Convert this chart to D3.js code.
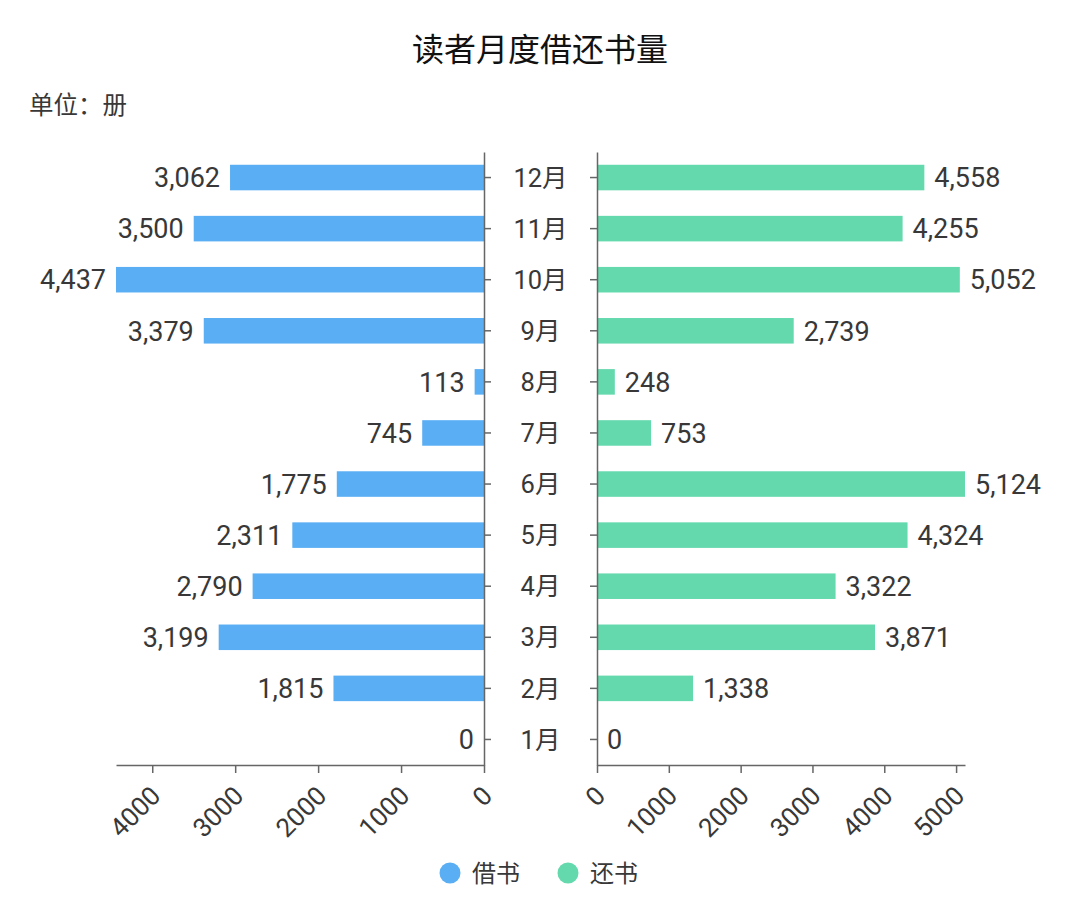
<!DOCTYPE html>
<html>
<head>
  <meta charset="utf-8">
  <title>读者月度借还书量</title>
  <style>
    body { margin: 0; background: #fff; }
    svg text { font-family: Roboto, "Noto Sans CJK SC", sans-serif; }
  </style>
</head>
<body>
  <svg width="1080" height="918"></svg>
  <script src="https://d3js.org/d3.v7.min.js"></script>
  <script>

  // 数据
  var months = ["1月", "2月", "3月", "4月", "5月", "6月", "7月", "8月", "9月", "10月", "11月", "12月"];
  var borrow = [0, 1815, 3199, 2790, 2311, 1775, 745, 113, 3379, 4437, 3500, 3062];
  var giveBack = [0, 1338, 3871, 3322, 4324, 5124, 753, 248, 2739, 5052, 4255, 4558];
  var leftTicks = [0, 1000, 2000, 3000, 4000];
  var rightTicks = [0, 1000, 2000, 3000, 4000, 5000];

  var blue = "#5aaef3", green = "#64d9ad";
  var axisColor = "#666", textColor = "#383838";

  var svg = d3.select("svg");
  var plotTop = 152, plotBottom = 765;
  var leftX = 484, rightX = 597, span = 368;

  var y = d3.scaleBand()
    .domain(months.slice().reverse())
    .range([plotTop, plotBottom])
    .paddingInner(0.5)
    .paddingOuter(0.25);

  var xl = d3.scaleLinear().domain([0, d3.max(borrow)]).range([leftX, leftX - span]);
  var xr = d3.scaleLinear().domain([0, d3.max(giveBack)]).range([rightX, rightX + span]);

  var rows = months.map(function(m, i) { return { m: m, b: borrow[i], r: giveBack[i] }; });

  // 标题
  svg.append("text")
    .attr("x", 540).attr("y", 61)
    .attr("text-anchor", "middle")
    .attr("font-size", 32)
    .attr("font-weight", 400)
    .attr("fill", "#111")
    .text("读者月度借还书量");

  svg.append("text")
    .attr("x", 29).attr("y", 114)
    .attr("font-size", 24.5)
    .attr("fill", textColor)
    .text("单位：册");

  // 柱子
  svg.append("g").selectAll("rect")
    .data(rows).enter().append("rect")
    .attr("x", function(d) { return xl(d.b); })
    .attr("y", function(d) { return y(d.m); })
    .attr("width", function(d) { return leftX - xl(d.b); })
    .attr("height", y.bandwidth())
    .attr("fill", blue);

  svg.append("g").selectAll("rect")
    .data(rows).enter().append("rect")
    .attr("x", rightX)
    .attr("y", function(d) { return y(d.m); })
    .attr("width", function(d) { return xr(d.r) - rightX; })
    .attr("height", y.bandwidth())
    .attr("fill", green);

  // 数值标签
  var fmt = d3.format(",");
  svg.append("g").selectAll("text")
    .data(rows).enter().append("text")
    .attr("x", function(d) { return xl(d.b) - 10; })
    .attr("y", function(d) { return y(d.m) + y.bandwidth() / 2; })
    .attr("dy", "0.36em")
    .attr("text-anchor", "end")
    .attr("font-size", 27)
    .attr("fill", textColor)
    .text(function(d) { return fmt(d.b); });

  svg.append("g").selectAll("text")
    .data(rows).enter().append("text")
    .attr("x", function(d) { return xr(d.r) + 10; })
    .attr("y", function(d) { return y(d.m) + y.bandwidth() / 2; })
    .attr("dy", "0.36em")
    .attr("font-size", 27)
    .attr("fill", textColor)
    .text(function(d) { return fmt(d.r); });

  // 月份
  svg.append("g").selectAll("text")
    .data(rows).enter().append("text")
    .attr("x", (leftX + rightX) / 2)
    .attr("y", function(d) { return y(d.m) + y.bandwidth() / 2; })
    .attr("dy", "0.36em")
    .attr("text-anchor", "middle")
    .attr("font-size", 25.5)
    .attr("fill", textColor)
    .text(function(d) { return d.m; });

  // 坐标轴
  function styleAxis(g) {
    g.select(".domain").attr("stroke", axisColor).attr("stroke-width", 1.5);
    g.selectAll(".tick line").attr("stroke", axisColor).attr("stroke-width", 1.5);
  }

  var yl = d3.axisRight(y).tickSize(7).tickSizeOuter(0).tickFormat("");
  svg.append("g").attr("transform", "translate(" + leftX + ",0)").call(yl).call(styleAxis);

  var yr = d3.axisLeft(y).tickSize(7).tickSizeOuter(0).tickFormat("");
  svg.append("g").attr("transform", "translate(" + rightX + ",0)").call(yr).call(styleAxis);

  function tickText(g) {
    g.selectAll(".tick text")
      .attr("font-size", 26)
      .attr("fill", textColor)
      .attr("text-anchor", "end")
      .attr("x", 0).attr("y", 0)
      .attr("dx", 0)
      .attr("dy", "0.35em")
      .attr("transform", "translate(3,26) rotate(-45)");
  }

  var axL = d3.axisBottom(xl).tickValues(leftTicks).tickFormat(d3.format("d")).tickSize(8).tickSizeOuter(0);
  svg.append("g").attr("transform", "translate(0," + plotBottom + ")").call(axL).call(styleAxis).call(tickText);

  var axR = d3.axisBottom(xr).tickValues(rightTicks).tickFormat(d3.format("d")).tickSize(8).tickSizeOuter(0);
  svg.append("g").attr("transform", "translate(0," + plotBottom + ")").call(axR).call(styleAxis).call(tickText);

  // 图例
  var legend = [{ name: "借书", color: blue, x: 450 }, { name: "还书", color: green, x: 568 }];
  var lg = svg.append("g").selectAll("g").data(legend).enter().append("g")
    .attr("transform", function(d) { return "translate(" + d.x + ",873)"; });
  lg.append("circle").attr("r", 10.5).attr("fill", function(d) { return d.color; });
  lg.append("text")
    .attr("x", 22).attr("dy", "0.36em")
    .attr("font-size", 24)
    .attr("fill", textColor)
    .text(function(d) { return d.name; });

  </script>
</body>
</html>
